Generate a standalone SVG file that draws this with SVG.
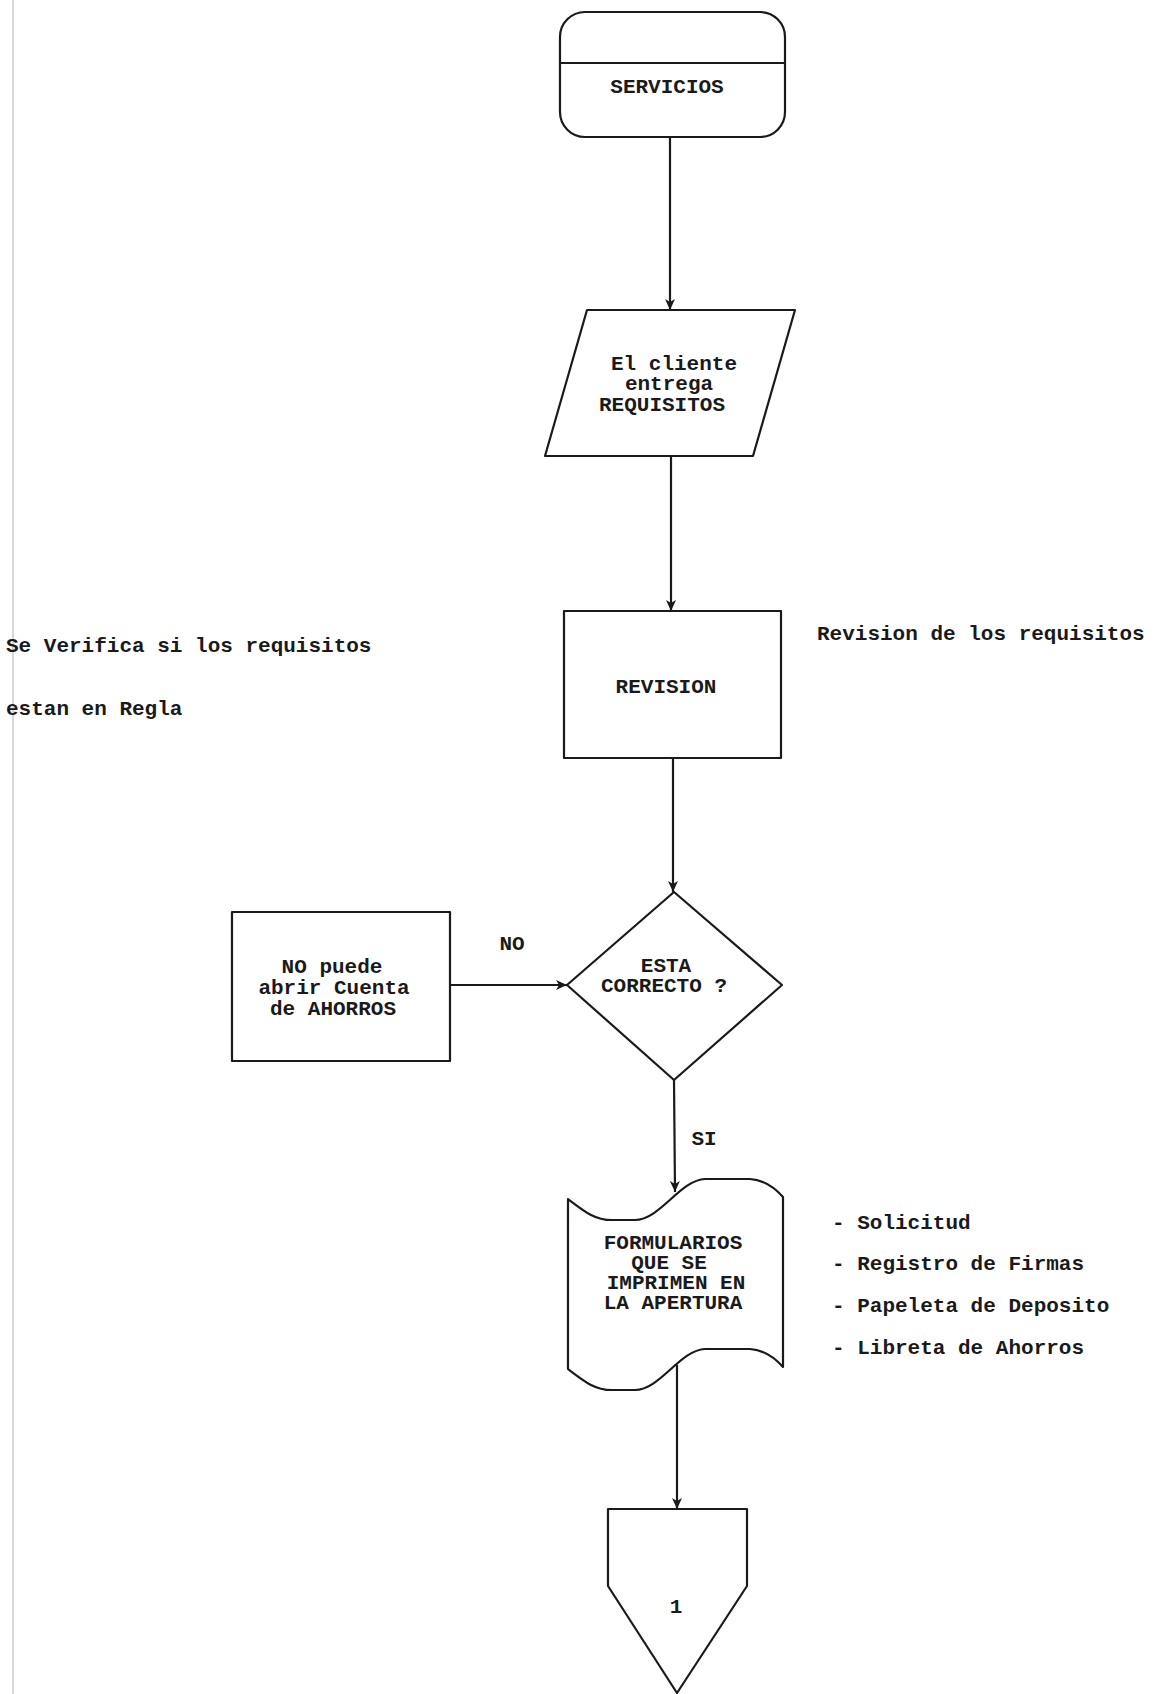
<svg xmlns="http://www.w3.org/2000/svg" width="1156" height="1694" viewBox="0 0 1156 1694">
  <defs>
    <style>
      .shape { fill: none; stroke: #1a1a1a; stroke-width: 2.2; stroke-linejoin: round; }
      .conn { fill: none; stroke: #1a1a1a; stroke-width: 2.2; }
      .t { font-family: "Liberation Mono", "DejaVu Sans Mono", monospace; font-size: 21px; font-weight: bold; fill: #1a1a1a; }
      .c { text-anchor: middle; }
    </style>
    <marker id="arrow" viewBox="0 0 12 10" refX="11" refY="5" markerWidth="12" markerHeight="10" markerUnits="userSpaceOnUse" orient="auto">
      <path d="M0,0 L11,5 L0,10 L3,5 Z" fill="#1a1a1a"/>
    </marker>
  </defs>
  <rect x="0" y="0" width="1156" height="1694" fill="#ffffff"/>
  <line x1="13" y1="0" x2="13" y2="1694" stroke="#d8d8d8" stroke-width="2"/>

  <g id="connectors">
    <line class="conn" x1="670" y1="137" x2="670" y2="310" marker-end="url(#arrow)"/>
    <line class="conn" x1="671" y1="456" x2="671" y2="611" marker-end="url(#arrow)"/>
    <line class="conn" x1="673" y1="758" x2="673" y2="892" marker-end="url(#arrow)"/>
    <line class="conn" x1="450" y1="985" x2="567" y2="985" marker-end="url(#arrow)"/>
    <line class="conn" x1="674" y1="1080" x2="675" y2="1192" marker-end="url(#arrow)"/>
    <line class="conn" x1="677" y1="1365" x2="677" y2="1509" marker-end="url(#arrow)"/>
    <text class="t c" x="512" y="950">NO</text>
    <text class="t c" x="704" y="1145">SI</text>
  </g>

  <g id="servicios">
    <rect class="shape" x="560" y="12" width="225" height="125" rx="25" ry="25"/>
    <line class="shape" x1="560" y1="63" x2="785" y2="63"/>
    <text class="t c" x="667" y="93">SERVICIOS</text>
  </g>

  <g id="entrega">
    <polygon class="shape" points="587,310 795,310 753,456 545,456"/>
    <text class="t c" x="674" y="370">El cliente</text>
    <text class="t c" x="669" y="390">entrega</text>
    <text class="t c" x="662" y="411">REQUISITOS</text>
  </g>

  <g id="revision">
    <rect class="shape" x="564" y="611" width="217" height="147"/>
    <text class="t c" x="666" y="693">REVISION</text>
  </g>

  <g id="nota-izquierda">
    <text class="t" x="6" y="652">Se Verifica si los requisitos</text>
    <text class="t" x="6" y="715">estan en Regla</text>
  </g>

  <g id="nota-derecha">
    <text class="t" x="817" y="640">Revision de los requisitos</text>
  </g>

  <g id="decision">
    <polygon class="shape" points="674,892 782,985 674,1080 567,985"/>
    <text class="t c" x="666" y="972">ESTA</text>
    <text class="t c" x="664" y="992">CORRECTO ?</text>
  </g>

  <g id="no-puede">
    <rect class="shape" x="232" y="912" width="218" height="149"/>
    <text class="t c" x="332" y="973">NO puede</text>
    <text class="t c" x="334" y="994">abrir Cuenta</text>
    <text class="t c" x="333" y="1015">de AHORROS</text>
  </g>

  <g id="formularios">
    <path class="shape" d="M568,1199 C585,1212 595,1220 612,1220 L635,1220 C660,1220 680,1180 705,1179 L750,1179 C765,1180 775,1188 783,1197 L783,1367 C775,1358 765,1350 750,1349 L705,1349 C680,1350 660,1390 635,1390 L612,1390 C595,1390 585,1382 568,1369 Z"/>
    <text class="t c" x="673" y="1249">FORMULARIOS</text>
    <text class="t c" x="669" y="1269">QUE SE</text>
    <text class="t c" x="676" y="1289">IMPRIMEN EN</text>
    <text class="t c" x="673" y="1309">LA APERTURA</text>
  </g>

  <g id="lista-formularios">
    <text class="t" x="832" y="1229">- Solicitud</text>
    <text class="t" x="832" y="1270">- Registro de Firmas</text>
    <text class="t" x="832" y="1312">- Papeleta de Deposito</text>
    <text class="t" x="832" y="1354">- Libreta de Ahorros</text>
  </g>

  <g id="conector-1">
    <polygon class="shape" points="608,1509 747,1509 747,1586 677,1693 608,1586"/>
    <text class="t c" x="676" y="1613">1</text>
  </g>
</svg>
